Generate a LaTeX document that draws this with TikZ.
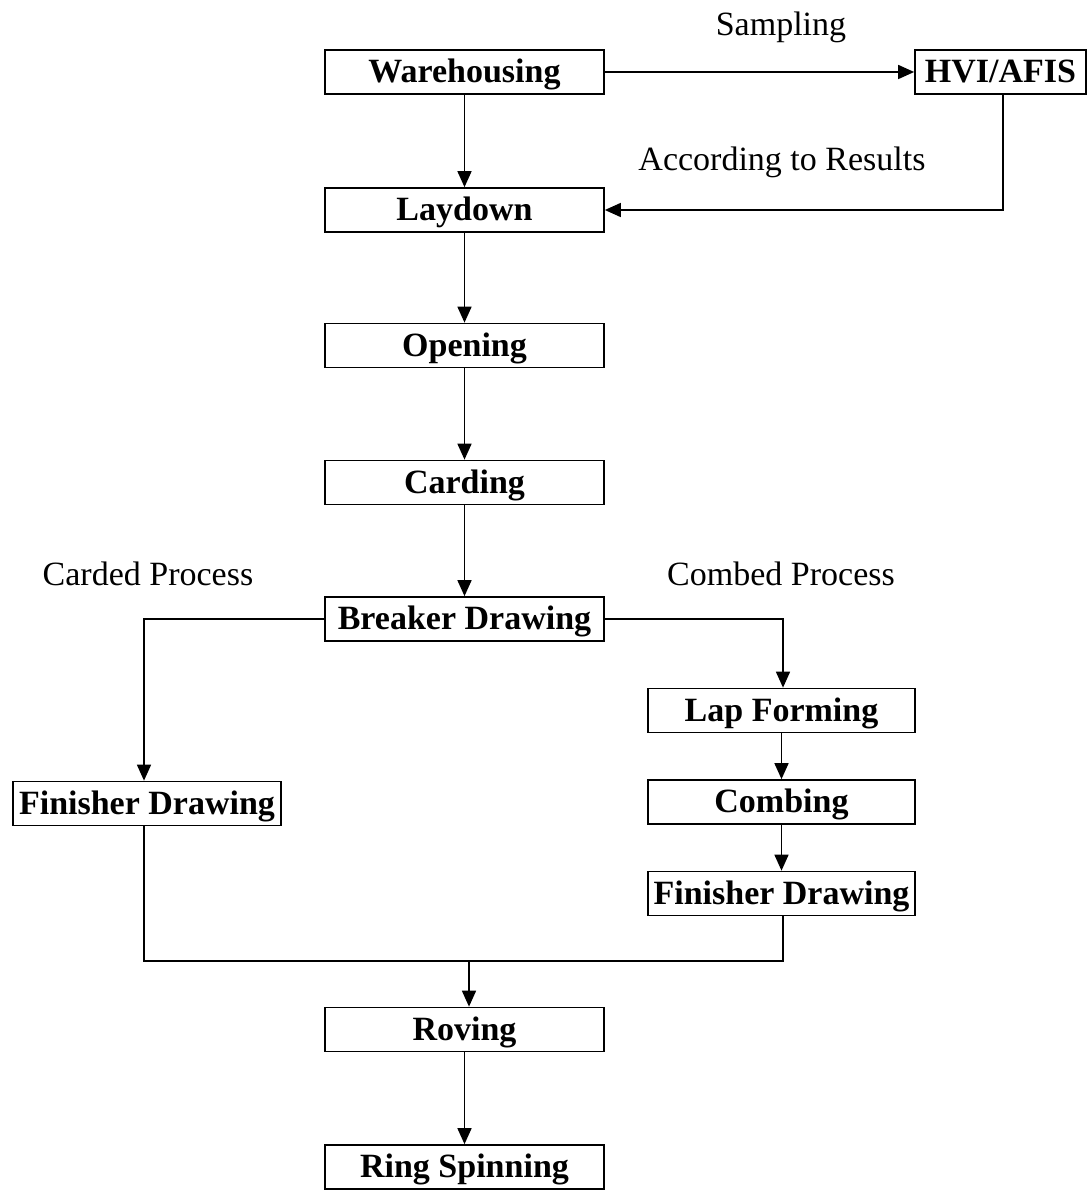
\documentclass[tikz,border=0pt]{standalone}
\usepackage{fontspec}
\setmainfont{Liberation Serif}
\usetikzlibrary{arrows.meta}
\begin{document}
\begin{tikzpicture}[x=1pt,y=-1pt,
  box/.style={draw,line width=1.7pt,minimum height=44pt,inner sep=0pt,text height=24pt,text depth=3pt,font=\fontsize{34}{36}\selectfont\bfseries},
  lbl/.style={font=\fontsize{34}{36}\selectfont,inner sep=0pt},
  conn/.style={line width=1.6pt},
  arr/.style={conn,-{Triangle[length=16pt,width=14pt]}}]
\useasboundingbox (0,0) rectangle (1089,1190);
\node[box,minimum width=279pt] (wh) at (464.5,72) {Warehousing};
\node[box,minimum width=171pt] (hvi) at (1000.5,72) {HVI/AFIS};
\node[box,minimum width=279pt] (ld) at (464.5,210) {Laydown};
\node[box,minimum width=279pt] (op) at (464.5,345.5) {Opening};
\node[box,minimum width=279pt] (cd) at (464.5,482.5) {Carding};
\node[box,minimum width=279pt] (bd) at (464.5,619) {Breaker Drawing};
\node[box,minimum width=268pt] (fdl) at (147,803.5) {Finisher Drawing};
\node[box,minimum width=267pt] (lf) at (781.5,710.5) {Lap Forming};
\node[box,minimum width=267pt] (cb) at (781.5,802) {Combing};
\node[box,minimum width=267pt] (fdr) at (781.5,893.5) {Finisher Drawing};
\node[box,minimum width=279pt] (rv) at (464.5,1029.5) {Roving};
\node[box,minimum width=279pt] (rs) at (464.5,1167) {Ring Spinning};
\node[lbl] (samp) at (781,27) {Sampling};
\node[lbl] (acc) at (782,162) {According to Results};
\node[lbl] (carded) at (148,574) {Carded Process};
\node[lbl] (combed) at (781,574) {Combed Process};
\coordinate (hvic) at (1003,210);
\coordinate (bl) at (144,619);
\coordinate (br) at (783,619);
\coordinate (ml) at (144,961);
\coordinate (mr) at (783,961);
\coordinate (mm) at (469,961);
\draw[arr] (wh) -- (hvi);
\draw[arr] (wh) -- (ld);
\draw[arr] (hvi.south -| hvic) -- (hvic) -- (ld.east);
\draw[arr] (ld) -- (op);
\draw[arr] (op) -- (cd);
\draw[arr] (cd) -- (bd);
\draw[arr] (bd.west) -- (bl) -- (fdl.north -| bl);
\draw[arr] (bd.east) -- (br) -- (lf.north -| br);
\draw[arr] (lf) -- (cb);
\draw[arr] (cb) -- (fdr);
\draw[conn] (fdl.south -| ml) -- (ml) -- (mr) -- (fdr.south -| mr);
\draw[arr] (mm) -- (rv.north -| mm);
\draw[arr] (rv) -- (rs);
\end{tikzpicture}
\end{document}
